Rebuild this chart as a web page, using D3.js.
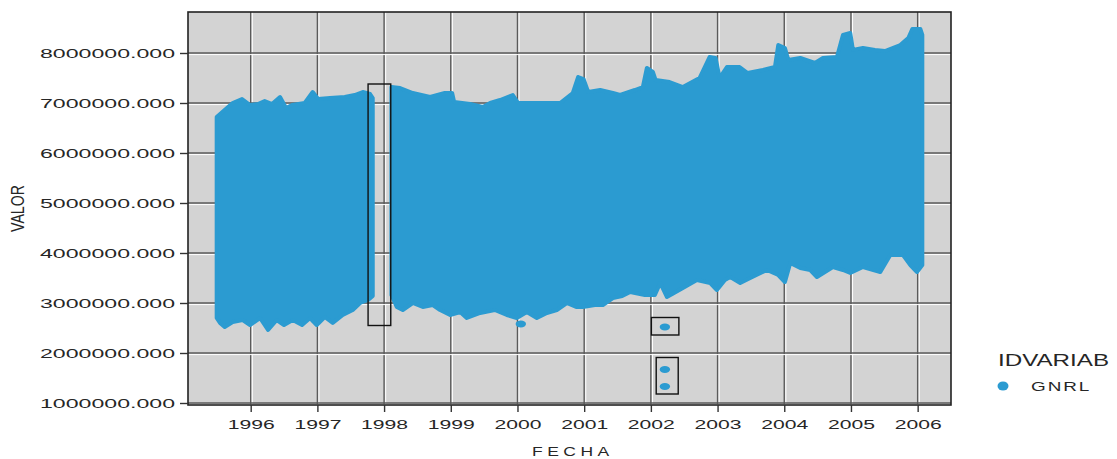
<!DOCTYPE html>
<html>
<head>
<meta charset="utf-8">
<script src="https://cdn.jsdelivr.net/npm/d3@7"></script>
<style>
  body { margin: 0; background: #fff; }
  text { font-family: "Liberation Sans", Arial, sans-serif; fill: #262626; }
</style>
</head>
<body>
<svg id="chart" width="1117" height="459"></svg>
<script>
// tick values
var yearTicks = [1996, 1997, 1998, 1999, 2000, 2001, 2002, 2003, 2004, 2005, 2006];
var valorTicks = [1000000, 2000000, 3000000, 4000000, 5000000, 6000000, 7000000, 8000000];

// envelope of the point cloud [fecha (decimal year), valor]
var top1 = [
  [1995.49, 6720000], [1995.73, 7000000], [1995.87, 7080000], [1995.99, 6960000], [1996.11, 6980000],
  [1996.21, 7040000], [1996.32, 6980000], [1996.44, 7120000], [1996.53, 6900000], [1996.62, 6960000],
  [1996.81, 7000000], [1996.93, 7220000], [1997.01, 7080000], [1997.19, 7100000], [1997.41, 7120000],
  [1997.56, 7160000], [1997.68, 7220000], [1997.79, 7180000], [1997.83, 7100000]
];
var bottom1 = [
  [1995.49, 2700000], [1995.54, 2600000], [1995.61, 2520000], [1995.73, 2620000], [1995.88, 2660000],
  [1995.99, 2560000], [1996.14, 2700000], [1996.26, 2460000], [1996.39, 2660000], [1996.50, 2560000],
  [1996.63, 2660000], [1996.77, 2560000], [1996.89, 2700000], [1996.99, 2560000], [1997.11, 2720000],
  [1997.23, 2600000], [1997.38, 2760000], [1997.53, 2860000], [1997.64, 3000000], [1997.76, 3060000],
  [1997.83, 3140000]
];
var top2 = [
  [1998.11, 7320000], [1998.24, 7300000], [1998.43, 7200000], [1998.69, 7120000], [1998.91, 7200000],
  [1999.02, 7200000], [1999.05, 7020000], [1999.29, 6980000], [1999.48, 6920000], [1999.59, 7000000],
  [1999.74, 7060000], [1999.93, 7160000], [2000.01, 7000000], [2000.34, 7000000], [2000.64, 7000000],
  [2000.83, 7200000], [2000.91, 7520000], [2000.99, 7480000], [2001.06, 7220000], [2001.24, 7260000],
  [2001.43, 7200000], [2001.54, 7160000], [2001.76, 7260000], [2001.88, 7320000], [2001.94, 7700000],
  [2002.03, 7620000], [2002.07, 7460000], [2002.28, 7420000], [2002.48, 7320000], [2002.73, 7500000],
  [2002.88, 7920000], [2002.97, 7900000], [2003.03, 7500000], [2003.14, 7720000], [2003.33, 7720000],
  [2003.45, 7600000], [2003.68, 7660000], [2003.86, 7720000], [2003.91, 8160000], [2004.01, 8100000],
  [2004.06, 7860000], [2004.24, 7900000], [2004.46, 7800000], [2004.58, 7900000], [2004.79, 7920000],
  [2004.88, 8360000], [2004.99, 8400000], [2005.03, 8060000], [2005.18, 8100000], [2005.36, 8060000],
  [2005.51, 8040000], [2005.74, 8160000], [2005.86, 8300000], [2005.92, 8480000], [2006.04, 8480000],
  [2006.07, 8360000]
];
var bottom2 = [
  [1998.11, 3160000], [1998.19, 2920000], [1998.28, 2860000], [1998.43, 3000000], [1998.58, 2920000],
  [1998.73, 2960000], [1998.84, 2860000], [1998.99, 2760000], [1999.14, 2820000], [1999.24, 2700000],
  [1999.44, 2800000], [1999.66, 2860000], [1999.84, 2760000], [1999.99, 2700000], [2000.14, 2820000],
  [2000.29, 2700000], [2000.44, 2800000], [2000.59, 2860000], [2000.74, 3000000], [2000.88, 2920000],
  [2000.98, 2920000], [2001.16, 2960000], [2001.28, 2960000], [2001.43, 3100000], [2001.57, 3140000],
  [2001.69, 3220000], [2001.91, 3160000], [2002.06, 3160000], [2002.14, 3400000], [2002.24, 3120000],
  [2002.48, 3300000], [2002.69, 3460000], [2002.89, 3400000], [2002.99, 3260000], [2003.11, 3460000],
  [2003.19, 3520000], [2003.34, 3400000], [2003.49, 3500000], [2003.74, 3660000], [2003.91, 3560000],
  [2004.01, 3420000], [2004.09, 3800000], [2004.24, 3700000], [2004.39, 3660000], [2004.49, 3520000],
  [2004.73, 3720000], [2004.88, 3660000], [2004.99, 3600000], [2005.18, 3720000], [2005.44, 3620000],
  [2005.59, 3960000], [2005.78, 3960000], [2005.89, 3760000], [2005.99, 3620000], [2006.07, 3760000]
];

// isolated points
var outliers = [
  [2000.05, 2580000], [2002.21, 2520000], [2002.21, 1670000], [2002.21, 1330000]
];

// rectangles drawn round the odd data [x0, x1, y0, y1]
var marks = [
  [1997.76, 1998.10, 2550000, 7380000],
  [2002.01, 2002.42, 2360000, 2710000],
  [2002.08, 2002.41, 1180000, 1910000]
];

var blue = "#2b9bd1";

var svg = d3.select("#chart");

var x = d3.scaleLinear().domain([1995.06, 2006.5]).range([188, 951]);
var y = d3.scaleLinear().domain([960000, 8820000]).range([405, 12]);

// panel
svg.append("rect")
  .attr("x", 188).attr("y", 12)
  .attr("width", 763).attr("height", 393)
  .attr("fill", "#d3d3d3");

var grid = svg.append("g");

yearTicks.forEach(function(t){
  grid.append("line").attr("x1", x(t)).attr("x2", x(t)).attr("y1", 12).attr("y2", 405)
    .attr("stroke", "#5a5a5a").attr("stroke-width", 1.4);
  grid.append("line").attr("x1", x(t) + 1.6).attr("x2", x(t) + 1.6).attr("y1", 12).attr("y2", 405)
    .attr("stroke", "#fff").attr("stroke-width", 1);
});
valorTicks.forEach(function(t){
  grid.append("line").attr("x1", 188).attr("x2", 951).attr("y1", y(t)).attr("y2", y(t))
    .attr("stroke", "#5a5a5a").attr("stroke-width", 1.4);
  grid.append("line").attr("x1", 188).attr("x2", 951).attr("y1", y(t) + 1.6).attr("y2", y(t) + 1.6)
    .attr("stroke", "#fff").attr("stroke-width", 1);
});

// point cloud as two blobs, rounded edge like overlapping dots
var outline = d3.line()
  .x(function(d){ return x(d[0]); })
  .y(function(d){ return y(d[1]); })
  .curve(d3.curveLinearClosed);

[[top1, bottom1], [top2, bottom2]].forEach(function(seg){
  var pts = seg[0].concat(seg[1].slice().reverse());
  svg.append("path")
    .attr("d", outline(pts))
    .attr("fill", blue)
    .attr("stroke", blue)
    .attr("stroke-width", 4)
    .attr("stroke-linejoin", "round");
});

svg.append("g").selectAll("ellipse").data(outliers).enter().append("ellipse")
  .attr("cx", function(d){ return x(d[0]); })
  .attr("cy", function(d){ return y(d[1]); })
  .attr("rx", 5.2).attr("ry", 3.4)
  .attr("fill", blue);

svg.append("g").selectAll("rect").data(marks).enter().append("rect")
  .attr("x", function(d){ return x(d[0]); })
  .attr("y", function(d){ return y(d[3]); })
  .attr("width", function(d){ return x(d[1]) - x(d[0]); })
  .attr("height", function(d){ return y(d[2]) - y(d[3]); })
  .attr("fill", "none").attr("stroke", "#111").attr("stroke-width", 1.4);

// panel border
svg.append("rect")
  .attr("x", 188).attr("y", 12)
  .attr("width", 763).attr("height", 393)
  .attr("fill", "none").attr("stroke", "#222").attr("stroke-width", 1.6);

// axes
var yAxis = svg.append("g").attr("transform", "translate(188,0)")
  .call(d3.axisLeft(y).tickValues(valorTicks).tickFormat(d3.format(".3f")).tickSize(8).tickPadding(5));
var xAxis = svg.append("g").attr("transform", "translate(0,405)")
  .call(d3.axisBottom(x).tickValues(yearTicks).tickFormat(d3.format("d")).tickSize(7).tickPadding(8));

[yAxis, xAxis].forEach(function(ax){
  ax.select(".domain").remove();
  ax.selectAll(".tick line").attr("stroke", "#333").attr("stroke-width", 1.4);
});

yAxis.selectAll(".tick text")
  .attr("font-size", 13).attr("fill", "#262626")
  .attr("textLength", 135).attr("lengthAdjust", "spacingAndGlyphs");
xAxis.selectAll(".tick text")
  .attr("font-size", 12).attr("fill", "#262626")
  .attr("textLength", 47).attr("lengthAdjust", "spacingAndGlyphs");

// titles (picture is stretched sideways, so scale x)
svg.append("text")
  .attr("transform", "translate(532,456) scale(1.4,1)")
  .attr("font-size", 12.5)
  .attr("letter-spacing", 3.2)
  .text("FECHA");

svg.append("text")
  .attr("transform", "translate(24,232) scale(1.5,1) rotate(-90)")
  .attr("font-size", 12)
  .attr("textLength", 47).attr("lengthAdjust", "spacingAndGlyphs")
  .text("VALOR");

// legend
svg.append("text")
  .attr("x", 998).attr("y", 366)
  .attr("font-size", 17)
  .attr("textLength", 111).attr("lengthAdjust", "spacingAndGlyphs")
  .text("IDVARIAB");

svg.append("ellipse")
  .attr("cx", 1003).attr("cy", 386).attr("rx", 5.5).attr("ry", 4.5)
  .attr("fill", blue);

svg.append("text")
  .attr("transform", "translate(1031,391) scale(1.4,1)")
  .attr("font-size", 13.5)
  .attr("letter-spacing", 1.4)
  .text("GNRL");
</script>
</body>
</html>
